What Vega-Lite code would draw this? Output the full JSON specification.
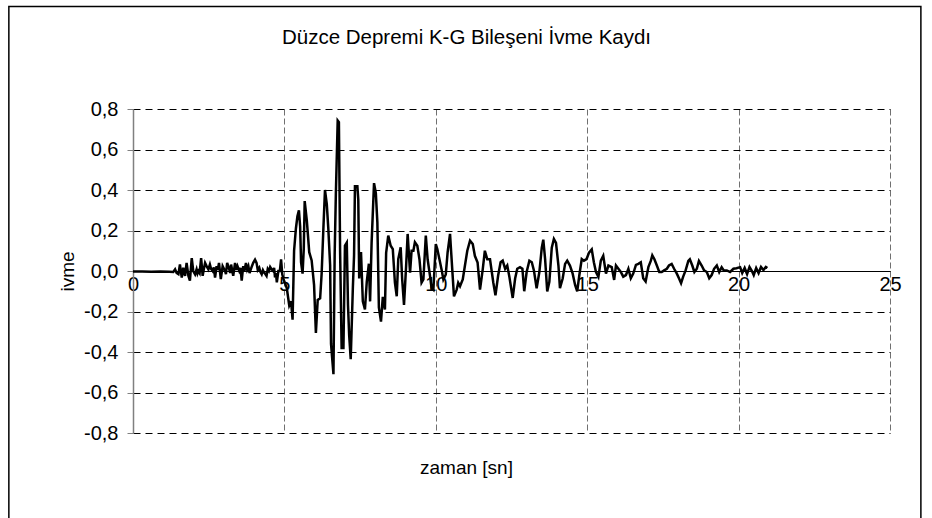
{
  "$schema": "https://vega.github.io/schema/vega-lite/v6.json",
  "width": 757,
  "height": 324,
  "autosize": {"type": "none"},
  "padding": {"left": 133, "top": 109, "right": 42, "bottom": 85},
  "background": "white",
  "title": {"text": "Düzce Depremi K-G Bileşeni İvme Kaydı", "font": "Liberation Sans", "fontSize": 20.5, "fontWeight": "normal", "color": "#000", "anchor": "middle", "dx": -45, "offset": -43},
  "config": {
    "locale": {"number": {"decimal": ",", "thousands": ".", "grouping": [3], "currency": ["", " TL"], "minus": "-"}},
    "view": {"stroke": null},
    "font": "Liberation Sans"
  },
  "layer": [
    {
      "data": {"values": [{"frame": "chart"}]},
      "mark": {"type": "rect", "fill": null, "filled": false, "stroke": "#000", "strokeWidth": 1.5},
      "encoding": {
        "x": {"datum": -4.1, "type": "quantitative"},
        "x2": {"datum": 26.02},
        "y": {"datum": 1.306, "type": "quantitative"},
        "y2": {"datum": -1.3}
      }
    },
    {
      "data": {"values": [
        {"t":0,"a":-0.003},{"t":0.3,"a":-0.003},{"t":0.6,"a":-0.004},{"t":0.9,"a":-0.003},{"t":1.2,"a":-0.004},{"t":1.33,"a":-0.005},
        {"t":1.39,"a":0.008},{"t":1.44,"a":-0.01},{"t":1.5,"a":-0.016},{"t":1.55,"a":0.032},{"t":1.61,"a":-0.032},{"t":1.66,"a":0.016},{"t":1.72,"a":-0.024},
        {"t":1.77,"a":0.04},{"t":1.83,"a":-0.024},{"t":1.88,"a":-0.048},{"t":1.94,"a":0.064},{"t":1.99,"a":0},{"t":2.05,"a":-0.016},
        {"t":2.1,"a":0.008},{"t":2.13,"a":-0.012},{"t":2.16,"a":0},{"t":2.2,"a":-0.01},{"t":2.25,"a":0.064},{"t":2.3,"a":-0.024},{"t":2.34,"a":0.01},{"t":2.38,"a":0.04},{"t":2.43,"a":0.024},
        {"t":2.49,"a":0.008},{"t":2.54,"a":0.032},{"t":2.58,"a":0.01},{"t":2.63,"a":0},{"t":2.67,"a":0.018},{"t":2.71,"a":-0.032},{"t":2.76,"a":0.024},{"t":2.8,"a":0.005},{"t":2.84,"a":0.04},
        {"t":2.9,"a":-0.04},{"t":2.96,"a":0.024},{"t":3.0,"a":0.012},{"t":3.04,"a":0},{"t":3.07,"a":-0.015},{"t":3.11,"a":0.04},{"t":3.18,"a":0.008},{"t":3.21,"a":-0.01},{"t":3.24,"a":0.032},
        {"t":3.31,"a":-0.024},{"t":3.37,"a":0.04},{"t":3.41,"a":0.005},{"t":3.45,"a":0.024},{"t":3.51,"a":0},{"t":3.55,"a":0.015},{"t":3.59,"a":-0.048},{"t":3.64,"a":0.024},
        {"t":3.68,"a":0.0},{"t":3.73,"a":0.04},{"t":3.77,"a":0.008},{"t":3.81,"a":0.024},{"t":3.85,"a":-0.01},{"t":3.89,"a":0.008},{"t":3.93,"a":0.025},{"t":3.97,"a":0.04},{"t":4.03,"a":0.056},{"t":4.08,"a":0.04},
        {"t":4.12,"a":0.005},{"t":4.17,"a":0.016},{"t":4.21,"a":-0.005},{"t":4.25,"a":-0.016},{"t":4.29,"a":0.004},{"t":4.33,"a":-0.008},{"t":4.37,"a":-0.015},{"t":4.41,"a":-0.024},{"t":4.45,"a":0.01},{"t":4.49,"a":0},{"t":4.53,"a":0.02},{"t":4.58,"a":0.008},
        {"t":4.63,"a":0},{"t":4.66,"a":0.015},{"t":4.69,"a":-0.032},{"t":4.72,"a":-0.01},{"t":4.75,"a":-0.056},{"t":4.8,"a":0},{"t":4.85,"a":0},{"t":4.89,"a":0.058},
        {"t":4.93,"a":-0.016},{"t":4.97,"a":-0.04},{"t":5.02,"a":-0.06},{"t":5.08,"a":-0.086},{"t":5.16,"a":-0.17},{"t":5.22,"a":-0.15},
        {"t":5.27,"a":-0.24},{"t":5.32,"a":0.1},{"t":5.38,"a":0.21},{"t":5.43,"a":0.27},{"t":5.48,"a":0.3},{"t":5.52,"a":0.22},
        {"t":5.55,"a":0.044},{"t":5.6,"a":-0.013},{"t":5.64,"a":0.11},{"t":5.67,"a":0.345},{"t":5.74,"a":0.25},{"t":5.82,"a":0.093},
        {"t":5.9,"a":0.052},{"t":5.98,"a":-0.07},{"t":6.04,"a":-0.306},{"t":6.1,"a":-0.143},{"t":6.18,"a":-0.135},{"t":6.23,"a":-0.013},
        {"t":6.29,"a":0.22},{"t":6.34,"a":0.4},{"t":6.4,"a":0.33},{"t":6.45,"a":0.21},{"t":6.51,"a":0.03},{"t":6.54,"a":-0.36},
        {"t":6.62,"a":-0.51},{"t":6.66,"a":0.08},{"t":6.7,"a":0.385},{"t":6.76,"a":0.743},{"t":6.8,"a":0.735},{"t":6.84,"a":0.093},
        {"t":6.89,"a":-0.38},{"t":6.95,"a":-0.38},{"t":7.0,"a":0.125},{"t":7.06,"a":0.14},{"t":7.1,"a":-0.167},{"t":7.14,"a":-0.32},
        {"t":7.19,"a":-0.436},{"t":7.26,"a":-0.086},{"t":7.3,"a":0.076},{"t":7.33,"a":0.418},{"t":7.41,"a":0.418},{"t":7.44,"a":0.353},
        {"t":7.47,"a":-0.037},{"t":7.53,"a":0.093},{"t":7.59,"a":-0.15},{"t":7.66,"a":-0.19},{"t":7.72,"a":-0.054},{"t":7.79,"a":0.036},
        {"t":7.83,"a":-0.15},{"t":7.88,"a":0.14},{"t":7.96,"a":0.434},{"t":8.02,"a":0.385},{"t":8.07,"a":0.24},{"t":8.12,"a":-0.18},
        {"t":8.19,"a":-0.25},{"t":8.25,"a":-0.127},{"t":8.32,"a":-0.19},{"t":8.36,"a":0.09},{"t":8.43,"a":0.175},{"t":8.51,"a":0.125},
        {"t":8.58,"a":0.108},{"t":8.65,"a":-0.058},{"t":8.71,"a":-0.125},{"t":8.76,"a":0.058},{"t":8.84,"a":0.117},{"t":8.89,"a":-0.042},
        {"t":8.95,"a":-0.167},{"t":9.02,"a":0.025},{"t":9.07,"a":0.183},{"t":9.15,"a":-0.008},{"t":9.2,"a":0.1},{"t":9.26,"a":0.1},
        {"t":9.31,"a":0.142},{"t":9.39,"a":0.125},{"t":9.46,"a":0.058},{"t":9.53,"a":-0.058},{"t":9.59,"a":-0.042},{"t":9.67,"a":0.175},
        {"t":9.73,"a":0.058},{"t":9.81,"a":-0.025},{"t":9.86,"a":-0.083},{"t":9.92,"a":-0.092},{"t":10.0,"a":0.133},{"t":10.05,"a":0.108},
        {"t":10.12,"a":0.058},{"t":10.19,"a":0.008},{"t":10.25,"a":-0.042},{"t":10.33,"a":-0.017},{"t":10.39,"a":0.092},{"t":10.47,"a":0.183},
        {"t":10.55,"a":-0.008},{"t":10.6,"a":-0.125},{"t":10.69,"a":-0.092},{"t":10.74,"a":-0.058},{"t":10.8,"a":-0.075},{"t":10.89,"a":-0.042},
        {"t":10.96,"a":0.025},{"t":11.04,"a":0.1},{"t":11.13,"a":0.15},{"t":11.22,"a":0.133},{"t":11.29,"a":0.075},{"t":11.38,"a":0.042},
        {"t":11.46,"a":-0.092},{"t":11.55,"a":0.008},{"t":11.62,"a":0.1},{"t":11.7,"a":0.058},{"t":11.79,"a":0.058},{"t":11.9,"a":-0.058},
        {"t":11.97,"a":-0.12},{"t":12.06,"a":-0.021},{"t":12.14,"a":0.043},{"t":12.21,"a":0.051},{"t":12.29,"a":0.011},{"t":12.36,"a":0.027},
        {"t":12.43,"a":-0.029},{"t":12.54,"a":-0.133},{"t":12.62,"a":-0.037},{"t":12.69,"a":0.011},{"t":12.78,"a":0.019},{"t":12.86,"a":0.011},
        {"t":12.92,"a":-0.1},{"t":13.0,"a":-0.005},{"t":13.09,"a":0.051},{"t":13.17,"a":0.043},{"t":13.24,"a":0.003},{"t":13.33,"a":-0.085},
        {"t":13.42,"a":-0.005},{"t":13.5,"a":0.115},{"t":13.55,"a":0.155},{"t":13.61,"a":0.059},{"t":13.68,"a":-0.101},{"t":13.75,"a":-0.053},
        {"t":13.83,"a":0.115},{"t":13.9,"a":0.158},{"t":13.97,"a":0.139},{"t":14.05,"a":0.027},{"t":14.1,"a":-0.085},{"t":14.19,"a":-0.037},
        {"t":14.27,"a":0.035},{"t":14.34,"a":0.051},{"t":14.43,"a":0.027},{"t":14.52,"a":-0.013},{"t":14.6,"a":-0.069},{"t":14.67,"a":-0.101},
        {"t":14.74,"a":-0.021},{"t":14.82,"a":0.059},{"t":14.89,"a":0.051},{"t":14.98,"a":0.059},{"t":15.06,"a":0.091},{"t":15.15,"a":0.107},
        {"t":15.22,"a":0.043},{"t":15.29,"a":-0.005},{"t":15.37,"a":-0.029},{"t":15.45,"a":0.051},{"t":15.53,"a":0.075},{"t":15.62,"a":-0.013},
        {"t":15.7,"a":0.027},{"t":15.81,"a":0.019},{"t":15.89,"a":-0.044},{"t":15.95,"a":0.027},{"t":16.03,"a":0.011},{"t":16.11,"a":-0.005},
        {"t":16.19,"a":-0.028},{"t":16.28,"a":-0.02},{"t":16.36,"a":0.011},{"t":16.44,"a":-0.036},{"t":16.52,"a":-0.013},{"t":16.61,"a":0.03},
        {"t":16.69,"a":0.035},{"t":16.77,"a":0.043},{"t":16.85,"a":-0.036},{"t":16.93,"a":-0.052},{"t":17.02,"a":0.019},{"t":17.1,"a":0.05},
        {"t":17.15,"a":0.077},{"t":17.22,"a":0.058},{"t":17.3,"a":0.027},{"t":17.38,"a":-0.005},{"t":17.46,"a":-0.005},{"t":17.54,"a":0.003},
        {"t":17.63,"a":0.011},{"t":17.7,"a":0.027},{"t":17.79,"a":0.035},{"t":17.87,"a":0.011},{"t":17.96,"a":-0.013},{"t":18.03,"a":-0.036},
        {"t":18.1,"a":-0.06},{"t":18.17,"a":-0.028},{"t":18.25,"a":0.003},{"t":18.34,"a":0.05},{"t":18.39,"a":0.058},{"t":18.47,"a":0.027},
        {"t":18.54,"a":-0.005},{"t":18.62,"a":0.011},{"t":18.69,"a":0.05},{"t":18.78,"a":0.027},{"t":18.86,"a":0.003},{"t":18.95,"a":-0.005},
        {"t":19.03,"a":-0.036},{"t":19.11,"a":-0.02},{"t":19.19,"a":0.011},{"t":19.28,"a":0.027},{"t":19.36,"a":-0.005},{"t":19.44,"a":0.019},
        {"t":19.51,"a":0.003},{"t":19.61,"a":0.003},{"t":19.72,"a":-0.005},{"t":19.83,"a":0.011},{"t":19.93,"a":0.014},{"t":20.05,"a":0.019},
        {"t":20.12,"a":-0.01},{"t":20.2,"a":0.015},{"t":20.28,"a":-0.015},{"t":20.36,"a":0.02},{"t":20.44,"a":0},{"t":20.5,"a":-0.02},
        {"t":20.58,"a":0.015},{"t":20.66,"a":-0.01},{"t":20.74,"a":0.02},{"t":20.82,"a":0.005},{"t":20.9,"a":0.02},{"t":20.95,"a":0.015}
      ]},
      "mark": {"type": "line", "color": "#000", "strokeWidth": 2.5},
      "encoding": {
        "x": {
          "field": "t", "type": "quantitative",
          "scale": {"domain": [0, 25], "nice": false, "zero": false},
          "axis": {
            "values": [0, 5, 10, 15, 20, 25],
            "title": "zaman [sn]",
            "offset": -162,
            "grid": true, "gridColor": "#707070", "gridDash": [6, 3], "gridWidth": 1,
            "domainColor": "#000", "domainWidth": 1,
            "ticks": false,
            "labelPadding": 3, "labelFontSize": 20, "labelColor": "#000", "labelFlush": false,
            "titleFontSize": 19, "titleFontWeight": "normal", "titleColor": "#000",
            "titleX": 333, "titleY": 196, "titleBaseline": "middle", "titleAlign": "center", "titleAnchor": null
          }
        },
        "y": {
          "field": "a", "type": "quantitative",
          "scale": {"domain": [-0.8, 0.8], "nice": false, "zero": false},
          "axis": {
            "values": [-0.8, -0.6, -0.4, -0.2, 0, 0.2, 0.4, 0.6, 0.8],
            "format": ".1f",
            "title": "ivme",
            "grid": true, "gridColor": "#000", "gridDash": [7, 5], "gridWidth": 1,
            "domainColor": "#808080", "domainWidth": 1.5,
            "tickColor": "#808080", "tickSize": 6,
            "labelPadding": 9, "labelFontSize": 20, "labelColor": "#000",
            "titleFontSize": 19, "titleFontWeight": "normal", "titleColor": "#000", "titlePadding": 6
          }
        }
      }
    }
  ]
}
